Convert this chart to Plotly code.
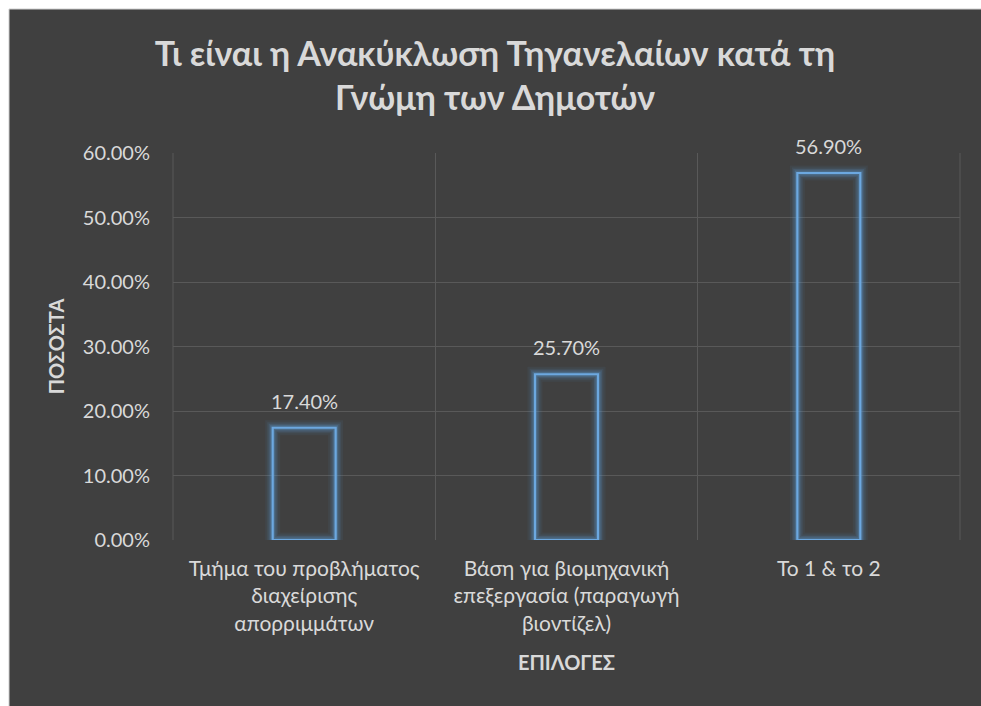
import plotly.graph_objects as go

# Survey answers and their shares
categories = [
    "Τμήμα του προβλήματος<br>διαχείρισης<br>απορριμμάτων",
    "Βάση για βιομηχανική<br>επεξεργασία (παραγωγή<br>βιοντίζελ)",
    "Το 1 & το 2",
]
shares = [0.174, 0.257, 0.569]
y_ticks = [0.0, 0.1, 0.2, 0.3, 0.4, 0.5, 0.6]

title_text = "Τι είναι η Ανακύκλωση Τηγανελαίων κατά τη<br>Γνώμη των Δημοτών"
x_title = "ΕΠΙΛΟΓΕΣ"
y_title = "ΠΟΣΟΣΤΑ"

W, H = 981, 706
L, R, T, B = 173, 21, 153, 166
FONT = "Lato"
TXT = "#d9d9d9"
BG = "#404040"
GRID = "#595959"
BLUE = "91,155,213"

fig = go.Figure()

# soft glow layers around the outlined bars
for lw, alpha in [(15, 0.07), (11, 0.10), (8, 0.16), (5, 0.28)]:
    fig.add_trace(go.Bar(
        x=categories, y=shares, width=0.24,
        marker=dict(color="rgba(0,0,0,0)",
                    line=dict(color=f"rgba({BLUE},{alpha})", width=lw)),
        hoverinfo="skip", showlegend=False,
    ))

# crisp outline
fig.add_trace(go.Bar(
    x=categories, y=shares, width=0.24,
    marker=dict(color="rgba(0,0,0,0)", line=dict(color="rgb(108,168,224)", width=2.2)),
    hoverinfo="skip", showlegend=False,
))

# value labels above each bar
for cat, val in zip(categories, shares):
    fig.add_annotation(
        x=cat, y=val, xref="x", yref="y",
        text=f"{val * 100:.2f}%", showarrow=False,
        yanchor="bottom", yshift=13,
        font=dict(family=FONT, size=20, color=TXT),
    )

pw, ph = W - L - R, H - T - B
def px_x(p):
    return (p - L) / pw
def px_y(p):
    return (H - B - p) / ph

fig.update_layout(
    width=W, height=H,
    margin=dict(l=L, r=R, t=T, b=B),
    paper_bgcolor="white",
    plot_bgcolor="rgba(0,0,0,0)",
    barmode="overlay",
    hovermode=False,
    font=dict(family=FONT, color=TXT),
    title=dict(
        text=title_text,
        x=495 / W, xanchor="center",
        y=1 - 66 / H, yanchor="middle",
        font=dict(family=FONT, size=34, color=TXT, weight="bold"),
    ),
    shapes=[
        dict(type="rect", xref="paper", yref="paper", layer="below",
             x0=px_x(9), x1=px_x(W + 2), y0=px_y(H + 2), y1=px_y(9),
             fillcolor=BG, line=dict(color="#cfcfcf", width=1)),
        # plot-area side edges
        dict(type="line", xref="paper", yref="paper", layer="below",
             x0=0, x1=0, y0=0, y1=1, line=dict(color=GRID, width=1)),
        dict(type="line", xref="paper", yref="paper", layer="below",
             x0=1, x1=1, y0=0, y1=1, line=dict(color=GRID, width=1)),
    ],
    xaxis=dict(
        type="category",
        tickson="boundaries",
        showgrid=True, gridcolor=GRID, gridwidth=1,
        showline=False, zeroline=False, ticks="",
        ticklabelstandoff=14,
        tickfont=dict(family=FONT, size=21, color=TXT),
        title=dict(text=x_title, standoff=22,
                   font=dict(family=FONT, size=20, color=TXT, weight="bold")),
    ),
    yaxis=dict(
        range=[0, 0.6],
        tickvals=y_ticks, tickformat=".2%",
        showgrid=True, gridcolor=GRID, gridwidth=1,
        zeroline=False, showline=False, ticks="",
        ticklabelstandoff=22,
        tickfont=dict(family=FONT, size=20, color=TXT),
        title=dict(text=y_title, standoff=12,
                   font=dict(family=FONT, size=20, color=TXT, weight="bold")),
    ),
)

fig.write_html("out.html")
